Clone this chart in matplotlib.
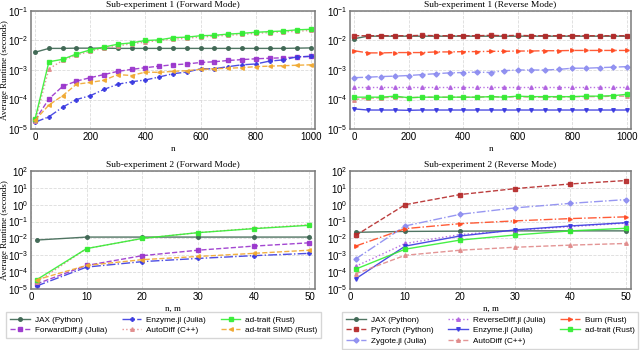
import numpy as np
import matplotlib
matplotlib.use("Agg")
import matplotlib.pyplot as plt

plt.rcParams['font.family'] = ['Liberation Sans', 'DejaVu Sans']
plt.rcParams['mathtext.fontset'] = 'custom'
plt.rcParams['mathtext.rm'] = 'Liberation Sans'
plt.rcParams['mathtext.it'] = 'Liberation Sans:italic'
plt.rcParams['mathtext.bf'] = 'Liberation Sans:bold'

# ---------------- data ----------------
n1 = [0, 50, 100, 150, 200, 250, 300, 350, 400, 450, 500,
      550, 600, 650, 700, 750, 800, 850, 900, 950, 1000]
n2 = [1, 10, 20, 30, 40, 50]

# Sub-experiment 1, forward mode
f1_jax = [4.0e-3, 5.4e-3, 5.4e-3, 5.5e-3, 5.5e-3, 5.5e-3, 5.4e-3, 5.4e-3, 5.4e-3, 5.4e-3, 5.4e-3,
          5.4e-3, 5.4e-3, 5.4e-3, 5.4e-3, 5.4e-3, 5.4e-3, 5.4e-3, 5.4e-3, 5.5e-3, 5.6e-3]
f1_forwarddiff = [2.0e-5, 1.05e-4, 2.8e-4, 4.2e-4, 5.5e-4, 7.0e-4, 9.0e-4, 1.05e-3, 1.2e-3, 1.35e-3, 1.5e-3,
                  1.6e-3, 1.8e-3, 1.9e-3, 2.1e-3, 2.25e-3, 2.4e-3, 2.5e-3, 2.6e-3, 2.75e-3, 2.9e-3]
f1_enzyme = [1.7e-5, 2.6e-5, 5.5e-5, 1.0e-4, 1.35e-4, 2.2e-4, 3.3e-4, 4.0e-4, 4.6e-4, 5.8e-4, 7.5e-4,
             8.5e-4, 1.1e-3, 1.1e-3, 1.3e-3, 1.5e-3, 1.6e-3, 2.0e-3, 2.2e-3, 2.8e-3, 2.9e-3]
f1_autodiff = [1.8e-5, 1.1e-3, 2.1e-3, 3.2e-3, 4.3e-3, 5.5e-3, 6.5e-3, 7.8e-3, 8.8e-3, 1.0e-2, 1.1e-2,
               1.2e-2, 1.3e-2, 1.4e-2, 1.5e-2, 1.6e-2, 1.75e-2, 1.85e-2, 1.95e-2, 2.05e-2, 2.2e-2]
f1_adtrait = [2.2e-5, 1.9e-3, 2.3e-3, 3.5e-3, 4.8e-3, 6.0e-3, 7.5e-3, 8.3e-3, 1.0e-2, 1.05e-2, 1.25e-2,
              1.3e-2, 1.45e-2, 1.5e-2, 1.65e-2, 1.75e-2, 1.9e-2, 2.0e-2, 2.1e-2, 2.3e-2, 2.4e-2]
f1_simd = [2.0e-5, 6.5e-5, 1.35e-4, 3.3e-4, 3.8e-4, 4.5e-4, 7.0e-4, 6.5e-4, 8.5e-4, 8.3e-4, 9.0e-4,
           9.5e-4, 1.05e-3, 1.1e-3, 1.15e-3, 1.2e-3, 1.3e-3, 1.35e-3, 1.4e-3, 1.45e-3, 1.5e-3]

# Sub-experiment 1, reverse mode
r1_jax = [1.15e-2, 1.4e-2, 1.4e-2, 1.4e-2, 1.4e-2, 1.4e-2, 1.4e-2, 1.4e-2, 1.4e-2, 1.4e-2, 1.4e-2,
          1.4e-2, 1.4e-2, 1.4e-2, 1.4e-2, 1.4e-2, 1.4e-2, 1.4e-2, 1.4e-2, 1.4e-2, 1.4e-2]
r1_pytorch = [1.45e-2, 1.45e-2, 1.45e-2, 1.45e-2, 1.45e-2, 1.5e-2, 1.45e-2, 1.45e-2, 1.45e-2, 1.45e-2, 1.5e-2,
              1.45e-2, 1.5e-2, 1.45e-2, 1.45e-2, 1.45e-2, 1.45e-2, 1.45e-2, 1.45e-2, 1.45e-2, 1.45e-2]
r1_zygote = [5.5e-4, 5.7e-4, 6.0e-4, 6.2e-4, 6.5e-4, 7.0e-4, 7.5e-4, 8.0e-4, 8.2e-4, 8.5e-4, 8.2e-4,
             9.5e-4, 1.0e-3, 1.0e-3, 1.0e-3, 1.05e-3, 1.15e-3, 1.15e-3, 1.2e-3, 1.25e-3, 1.3e-3]
r1_reversediff = [2.6e-4, 2.6e-4, 2.6e-4, 2.6e-4, 2.6e-4, 2.6e-4, 2.6e-4, 2.6e-4, 2.6e-4, 2.6e-4, 2.6e-4,
                  2.6e-4, 2.6e-4, 2.6e-4, 2.6e-4, 2.6e-4, 2.6e-4, 2.6e-4, 2.6e-4, 2.6e-4, 2.6e-4]
r1_enzyme = [4.8e-5, 4.4e-5, 4.4e-5, 4.4e-5, 4.3e-5, 4.4e-5, 4.4e-5, 4.4e-5, 4.4e-5, 4.4e-5, 4.4e-5,
             4.4e-5, 4.4e-5, 4.4e-5, 4.4e-5, 4.4e-5, 4.4e-5, 4.4e-5, 4.4e-5, 4.4e-5, 4.4e-5]
r1_autodiff = [1.0e-4, 1.1e-4, 1.15e-4, 1.2e-4, 1.15e-4, 1.2e-4, 1.2e-4, 1.2e-4, 1.2e-4, 1.2e-4, 1.25e-4,
               1.2e-4, 1.25e-4, 1.2e-4, 1.2e-4, 1.2e-4, 1.25e-4, 1.25e-4, 1.25e-4, 1.3e-4, 1.3e-4]
r1_burn = [4.5e-3, 3.8e-3, 3.8e-3, 3.9e-3, 3.9e-3, 3.9e-3, 4.1e-3, 4.1e-3, 4.2e-3, 4.2e-3, 4.3e-3,
           4.3e-3, 4.4e-3, 4.4e-3, 4.5e-3, 4.5e-3, 4.6e-3, 4.6e-3, 4.6e-3, 4.6e-3, 4.6e-3]
r1_adtrait = [1.2e-4, 1.2e-4, 1.2e-4, 1.3e-4, 1.15e-4, 1.2e-4, 1.2e-4, 1.2e-4, 1.2e-4, 1.2e-4, 1.25e-4,
              1.2e-4, 1.3e-4, 1.25e-4, 1.25e-4, 1.25e-4, 1.25e-4, 1.3e-4, 1.3e-4, 1.35e-4, 1.5e-4]

# Sub-experiment 2, forward mode
f2_jax = [8.0e-3, 1.2e-2, 1.2e-2, 1.2e-2, 1.2e-2, 1.2e-2]
f2_forwarddiff = [2.0e-5, 2.5e-4, 9.5e-4, 2.0e-3, 3.5e-3, 5.5e-3]
f2_enzyme = [1.5e-5, 2.0e-4, 4.2e-4, 6.5e-4, 9.5e-4, 1.3e-3]
f2_autodiff = [2.5e-5, 2.5e-3, 1.0e-2, 2.2e-2, 4.0e-2, 6.5e-2]
f2_adtrait = [3.5e-5, 2.5e-3, 1.0e-2, 2.2e-2, 3.8e-2, 6.0e-2]
f2_simd = [3.5e-5, 2.5e-4, 5.5e-4, 8.5e-4, 1.3e-3, 2.0e-3]

# Sub-experiment 2, reverse mode
r2_jax = [2.3e-2, 2.6e-2, 2.7e-2, 2.8e-2, 2.8e-2, 2.8e-2]
r2_pytorch = [1.5e-2, 1.0, 4.0, 9.0, 17.0, 27.0]
r2_zygote = [6.0e-4, 5.5e-2, 2.7e-1, 6.5e-1, 1.2, 2.0]
r2_reversediff = [2.2e-4, 5.0e-3, 1.7e-2, 3.0e-2, 5.0e-2, 8.0e-2]
r2_enzyme = [4.0e-5, 3.5e-3, 1.4e-2, 3.2e-2, 5.5e-2, 8.5e-2]
r2_autodiff = [8.0e-5, 1.0e-3, 2.0e-3, 3.0e-3, 4.0e-3, 5.0e-3]
r2_burn = [3.5e-3, 3.8e-2, 7.5e-2, 1.1e-1, 1.5e-1, 1.9e-1]
r2_adtrait = [1.5e-4, 2.3e-3, 8.0e-3, 1.6e-2, 2.8e-2, 4.0e-2]

# ---------------- styles ----------------
C_JAX = '#3d6652'
C_FWD = '#9933cc'
C_ENZ = '#3a3ae0'
C_AUTO = '#e08a8a'
C_ADT = '#33ee33'
C_SIMD = '#f0a830'
C_TORCH = '#b52a2a'
C_ZYG = '#8c8cf0'
C_REV = '#b060e0'
C_BURN = '#ff4a22'

fwd_styles = [
    ('JAX (Python)', C_JAX, '-', 'o'),
    ('ForwardDiff.jl (Julia)', C_FWD, '--', 's'),
    ('Enzyme.jl (Julia)', C_ENZ, '-.', 'P'),
    ('AutoDiff (C++)', C_AUTO, ':', '^'),
    ('ad-trait (Rust)', C_ADT, '-', 's'),
    ('ad-trait SIMD (Rust)', C_SIMD, '--', '<'),
]
rev_styles = [
    ('JAX (Python)', C_JAX, '-', 'o'),
    ('PyTorch (Python)', C_TORCH, '--', 's'),
    ('Zygote.jl (Julia)', C_ZYG, '-.', 'D'),
    ('ReverseDiff.jl (Julia)', C_REV, ':', '^'),
    ('Enzyme.jl (Julia)', C_ENZ, '-', 'v'),
    ('AutoDiff (C++)', C_AUTO, '--', '^'),
    ('Burn (Rust)', C_BURN, '-.', '>'),
    ('ad-trait (Rust)', C_ADT, '-', 's'),
]

f1 = [f1_jax, f1_forwarddiff, f1_enzyme, f1_autodiff, f1_adtrait, f1_simd]
r1 = [r1_jax, r1_pytorch, r1_zygote, r1_reversediff, r1_enzyme, r1_autodiff, r1_burn, r1_adtrait]
f2 = [f2_jax, f2_forwarddiff, f2_enzyme, f2_autodiff, f2_adtrait, f2_simd]
r2 = [r2_jax, r2_pytorch, r2_zygote, r2_reversediff, r2_enzyme, r2_autodiff, r2_burn, r2_adtrait]

fig = plt.figure(figsize=(6.4, 3.5), dpi=100)
ax_tl = fig.add_axes([0.0484, 0.6314, 0.4438, 0.3372])
ax_tr = fig.add_axes([0.547, 0.6314, 0.439, 0.3372])
ax_bl = fig.add_axes([0.0484, 0.1743, 0.4438, 0.3372])
ax_br = fig.add_axes([0.547, 0.1743, 0.439, 0.3372])

serif = ['Liberation Serif', 'DejaVu Serif']
FS = 6.5


def draw(ax, x, ys, styles, title, xlabel, ylim, xlim, xticks, ylabel=None):
    handles = []
    for y, (lab, c, ls, mk) in zip(ys, styles):
        h, = ax.plot(x, y, color=c, ls=ls, marker=mk, ms=2.6, lw=1.0,
                     label=lab, alpha=0.9)
        handles.append(h)
    ax.set_yscale('log')
    ax.set_ylim(*ylim)
    ax.set_xlim(*xlim)
    ax.set_xticks(xticks)
    ax.set_title(title, family=serif, fontsize=FS + 0.3, pad=3)
    ax.set_xlabel(xlabel, family=serif, fontsize=FS, labelpad=2)
    if ylabel:
        ax.set_ylabel(ylabel, family=serif, fontsize=FS)
        ax.yaxis.set_label_coords(-0.078, 0.5)
    ax.tick_params(axis='both', labelsize=FS + 0.5, length=0, pad=2)
    ax.tick_params(axis='y', which='minor', length=0)
    ax.grid(True, which='major', color='#dcdcdc', ls='--', lw=0.6)
    for s in ax.spines.values():
        s.set_color('#7a7a7a')
        s.set_linewidth(1.1)
    return handles


h_f = draw(ax_tl, n1, f1, fwd_styles, 'Sub-experiment 1 (Forward Mode)', 'n',
           (1e-5, 1e-1), (-15, 1015), [0, 200, 400, 600, 800, 1000],
           'Average Runtime (seconds)')
draw(ax_tr, n1, r1, rev_styles, 'Sub-experiment 1 (Reverse Mode)', 'n',
     (1e-5, 1e-1), (-15, 1015), [0, 200, 400, 600, 800, 1000])
draw(ax_bl, n2, f2, fwd_styles, 'Sub-experiment 2 (Forward Mode)', 'n, m',
     (1e-5, 1e2), (0, 51), [0, 10, 20, 30, 40, 50],
     'Average Runtime (seconds)')
h_r = draw(ax_br, n2, r2, rev_styles, 'Sub-experiment 2 (Reverse Mode)', 'n, m',
           (1e-5, 1e2), (0, 51), [0, 10, 20, 30, 40, 50])

for ax in (ax_bl, ax_br):
    ax.set_yticks([10.0 ** k for k in range(-5, 3)])

LFS = 5.9
leg_kw = dict(loc='upper center', ncol=3, fontsize=LFS, frameon=True,
              edgecolor='#cccccc', fancybox=False, handlelength=2.4,
              handletextpad=0.6, columnspacing=1.8, borderpad=0.45,
              labelspacing=0.35, borderaxespad=0)
fig.legend(handles=h_f, bbox_to_anchor=(0.256, 0.108), **leg_kw)
fig.legend(handles=h_r, bbox_to_anchor=(0.766, 0.108), **leg_kw)

fig.savefig('out.png', dpi=100)
